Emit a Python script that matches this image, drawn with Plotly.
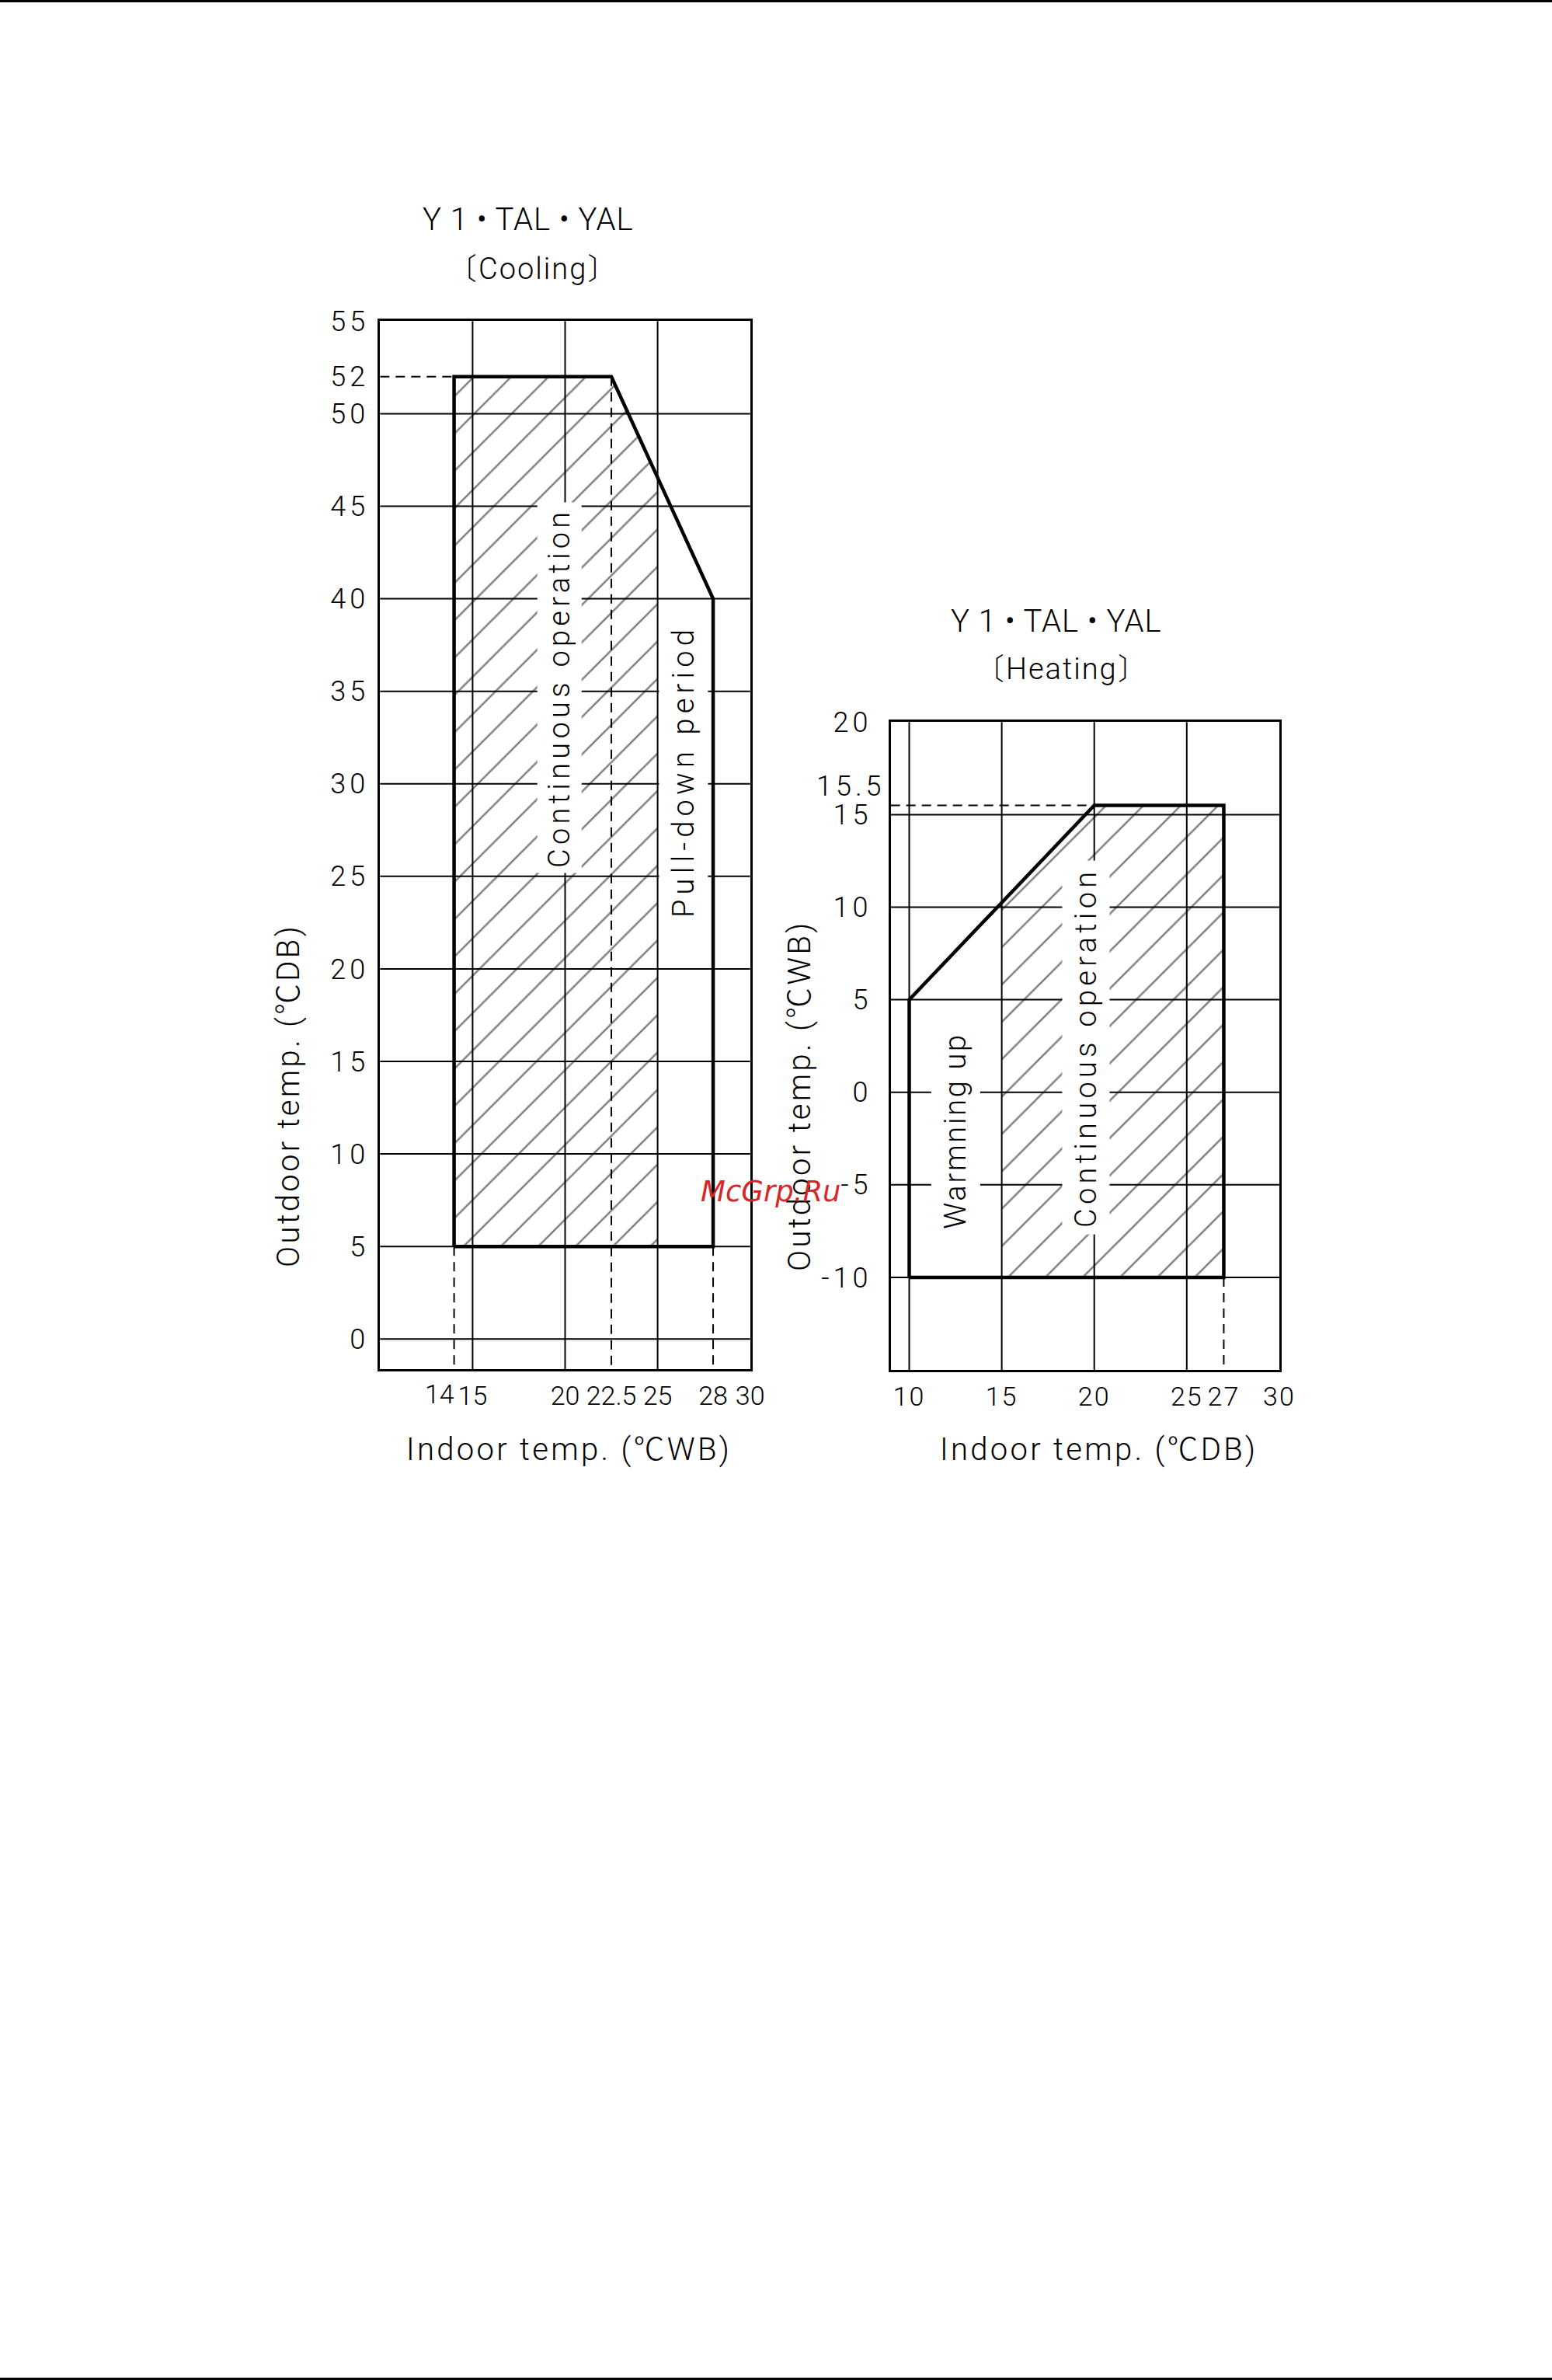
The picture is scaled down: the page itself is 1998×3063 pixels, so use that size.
import numpy as np
import plotly.graph_objects as go

# ---------------- data ----------------
# Cooling: indoor temp (deg C WB) vs outdoor temp (deg C DB)
cool_env_x = [14, 14, 22.5, 28, 28]
cool_env_y = [5, 52, 52, 40, 5]
cool_cont_x_max = 25
cool_drop_x = [14, 22.5, 28]
cool_x_range = [10, 30]
cool_y_range = [-1.64, 55]
cool_grid_x = [15, 20, 25]
cool_grid_y = [0, 5, 10, 15, 20, 25, 30, 35, 40, 45, 50]
cool_xtick_vals = [14, 15, 20, 22.5, 25, 28, 30]
cool_xtick_text = ["14", "15", "20", "22.5", "25", "28", "30"]
cool_ytick_vals = [0, 5, 10, 15, 20, 25, 30, 35, 40, 45, 50, 52, 55]
cool_ytick_text = ["0", "5", "10", "15", "20", "25", "30", "35", "40", "45", "50", "52", "55"]

# Heating: indoor temp (deg C DB) vs outdoor temp (deg C WB)
heat_env_x = [10, 10, 20, 27, 27]
heat_env_y = [-10, 5, 15.5, 15.5, -10]
heat_cont_x_min = 15
heat_drop_x = [27]
heat_x_range = [9, 30]
heat_y_range = [-15, 20]
heat_grid_x = [10, 15, 20, 25]
heat_grid_y = [-10, -5, 0, 5, 10, 15]
heat_xtick_vals = [10, 15, 20, 25, 27, 30]
heat_xtick_text = ["10", "15", "20", "25", "27", "30"]
heat_ytick_vals = [-10, -5, 0, 5, 10, 15, 20]
heat_ytick_text = ["-10", "-5", "0", "5", "10", "15", "20"]
heat_top_label = "15.5"

# ---------------- style ----------------
FONT = "Roboto, Noto Sans CJK JP, sans-serif"
WEIGHT = 300
W, H = 1998, 3063
BLACK = "black"


def spaced(text, px):
    return f'<span style="letter-spacing:{px}px">{text}</span>'


def px_x(p):
    return p / W


def px_y(p):
    return 1 - p / H


def top_boundary(env_x, env_y):
    return env_x[1:4], env_y[1:4]


def clip_region(env_x, env_y, x_lo, x_hi):
    tx, ty = top_boundary(env_x, env_y)
    bottom = min(env_y)
    xs = [x_lo] + [x for x in tx if x_lo < x < x_hi] + [x_hi]
    ys = list(np.interp(xs, tx, ty))
    return [x_lo] + xs + [x_hi], [bottom] + ys + [bottom]


def dashed_segments(env_x, env_y, drop_x, x_range, y_range):
    xs, ys = [], []
    ymax = max(env_y)
    x_first = min(x for x, y in zip(env_x, env_y) if y == ymax)
    xs += [x_range[0], x_first, None]
    ys += [ymax, ymax, None]
    for dx in drop_x:
        y0 = min(y for x, y in zip(env_x, env_y) if x == dx)
        xs += [dx, dx, None]
        ys += [y0, y_range[0], None]
    return xs, ys


fig = go.Figure()


def add_chart(env_x, env_y, hx, hy, drop_x, x_range, y_range, xa, ya):
    fig.add_trace(go.Scatter(
        x=hx, y=hy, xaxis=xa, yaxis=ya, mode="lines", fill="toself",
        line=dict(width=0, color="rgba(0,0,0,0)"),
        fillcolor="rgba(0,0,0,0)",
        fillpattern=dict(shape="/", size=34, solidity=0.075, fgcolor=BLACK),
        hoverinfo="skip", showlegend=False))
    dx, dy = dashed_segments(env_x, env_y, drop_x, x_range, y_range)
    fig.add_trace(go.Scatter(
        x=dx, y=dy, xaxis=xa, yaxis=ya, mode="lines",
        line=dict(color=BLACK, width=2, dash="12px,8px"),
        hoverinfo="skip", showlegend=False))
    fig.add_trace(go.Scatter(
        x=env_x + env_x[:1], y=env_y + env_y[:1], xaxis=xa, yaxis=ya,
        mode="lines", line=dict(color=BLACK, width=4.5),
        hoverinfo="skip", showlegend=False))


chx, chy = clip_region(cool_env_x, cool_env_y, cool_env_x[0], cool_cont_x_max)
add_chart(cool_env_x, cool_env_y, chx, chy, cool_drop_x, cool_x_range, cool_y_range, "x", "y")
hhx, hhy = clip_region(heat_env_x, heat_env_y, heat_cont_x_min, heat_env_x[-1])
add_chart(heat_env_x, heat_env_y, hhx, hhy, heat_drop_x, heat_x_range, heat_y_range, "x2", "y2")

shapes = []


def grid(xref, yref, gx, gy):
    for v in gx:
        shapes.append(dict(type="line", xref=xref, yref=yref + " domain", x0=v, x1=v, y0=0, y1=1,
                           line=dict(color=BLACK, width=2), layer="below"))
    for v in gy:
        shapes.append(dict(type="line", xref=xref + " domain", yref=yref, x0=0, x1=1, y0=v, y1=v,
                           line=dict(color=BLACK, width=2), layer="below"))


grid("x", "y", cool_grid_x, cool_grid_y)
grid("x2", "y2", heat_grid_x, heat_grid_y)

# page rules (top and bottom)
shapes.append(dict(type="rect", xref="paper", yref="paper", x0=0, x1=1, y0=px_y(3), y1=1,
                   fillcolor=BLACK, line=dict(width=0)))
shapes.append(dict(type="rect", xref="paper", yref="paper", x0=0, x1=1, y0=0, y1=px_y(3060),
                   fillcolor=BLACK, line=dict(width=0)))


def tf(size):
    return dict(family=FONT, size=size, color=BLACK, weight=WEIGHT)


axis_common = dict(showline=True, mirror=True, linecolor=BLACK, linewidth=3, showgrid=False,
                   zeroline=False, ticks="", tickmode="array", tickangle=0, automargin=False,
                   fixedrange=True)

# the "14" label sits right-aligned against its tick (drawn as an annotation below)
cool_axis_vals = [v for v in cool_xtick_vals if v != cool_env_x[0]]
cool_axis_text = [t for v, t in zip(cool_xtick_vals, cool_xtick_text) if v != cool_env_x[0]]
cool_left_label = cool_xtick_text[cool_xtick_vals.index(cool_env_x[0])]

fig.update_layout(
    width=W, height=H, autosize=False,
    margin=dict(l=0, r=0, t=0, b=0, pad=0, autoexpand=False),
    paper_bgcolor="white", plot_bgcolor="white",
    showlegend=False,
    xaxis=dict(domain=[px_x(489.3), px_x(965.7)], range=cool_x_range, anchor="y",
               tickvals=cool_axis_vals, ticktext=cool_axis_text, tickfont=tf(34),
               ticklabelstandoff=2, **axis_common),
    yaxis=dict(domain=[px_y(1762.3), px_y(413.3)], range=cool_y_range, anchor="x",
               tickvals=cool_ytick_vals, ticktext=[spaced(t, 5) for t in cool_ytick_text],
               tickfont=tf(36), ticklabelstandoff=4, **axis_common),
    xaxis2=dict(domain=[px_x(1146.7), px_x(1646.9)], range=heat_x_range, anchor="y2",
                tickvals=heat_xtick_vals, ticktext=[spaced(t, 2) for t in heat_xtick_text],
                tickfont=tf(34), ticklabelstandoff=2, **axis_common),
    yaxis2=dict(domain=[px_y(1763), px_y(929.3)], range=heat_y_range, anchor="x2",
                tickvals=heat_ytick_vals, ticktext=[spaced(t, 5) for t in heat_ytick_text],
                tickfont=tf(36), ticklabelstandoff=14, **axis_common),
    shapes=shapes,
)


def ann(text, x, y, size, angle=0, xref="paper", yref="paper", bg=None, pad=0, color=BLACK,
        family=FONT, style="normal", weight=WEIGHT, **kw):
    d = dict(text=text, x=x, y=y, xref=xref, yref=yref, showarrow=False, textangle=angle,
             font=dict(family=family, size=size, color=color, style=style, weight=weight),
             xanchor="center", yanchor="middle", borderpad=pad)
    if bg:
        d["bgcolor"] = bg
    d.update(kw)
    fig.add_annotation(**d)


# "14" tick label of the cooling chart
ann(cool_left_label, cool_env_x[0], 0, 34, xref="x", yref="y domain",
    xanchor="right", yanchor="top", xshift=1, yshift=-11)

# titles
ann(spaced("Y 1 • TAL • YAL", 1), px_x(680), px_y(283), 40)
ann(spaced("〔Cooling〕", 2), px_x(686), px_y(346), 38)
ann(spaced("Y 1 • TAL • YAL", 1), px_x(1360), px_y(799), 40)
ann(spaced("〔Heating〕", 2), px_x(1367), px_y(861), 38)

# axis titles
ann(spaced("Outdoor temp. (℃DB)", 3.3), px_x(371), px_y(1410), 40, angle=-90)
ann(spaced("Indoor temp. (℃WB)", 3.3), px_x(732), px_y(1865), 40)
ann(spaced("Outdoor temp. (℃WB)", 3.3), px_x(1029), px_y(1410), 40, angle=-90)
ann(spaced("Indoor temp. (℃DB)", 3.3), px_x(1414), px_y(1865), 40)

# region labels
ann(spaced("Continuous operation", 5.3), 19.69, 35.2, 38, angle=-90, xref="x", yref="y", bg="white", pad=6)
ann(spaced("Pull-down period", 6.2), 26.4, 30.7, 38, angle=-90, xref="x", yref="y", bg="white", pad=9)
ann(spaced("Warmning up", 2.7), 12.5, -2.1, 38, angle=-90, xref="x2", yref="y2", bg="white", pad=9)
ann(spaced("Continuous operation", 5.3), 19.55, 2.42, 38, angle=-90, xref="x2", yref="y2", bg="white", pad=8)

# top level label of the heating envelope
ann(spaced(heat_top_label, 5), 0, max(heat_env_y), 36, xref="x2 domain", yref="y2",
    xanchor="right", xshift=-6, yshift=24)

# watermark (shifted slightly so it does not sit on the tick label)
ann("McGrp.Ru", px_x(992), px_y(1533), 37, family="DejaVu Sans", style="italic",
    color="#d62828", weight=400)

fig.write_html("out.html", config={"displayModeBar": False},
               post_script="document.body.style.margin='0';document.body.style.overflow='hidden';")
